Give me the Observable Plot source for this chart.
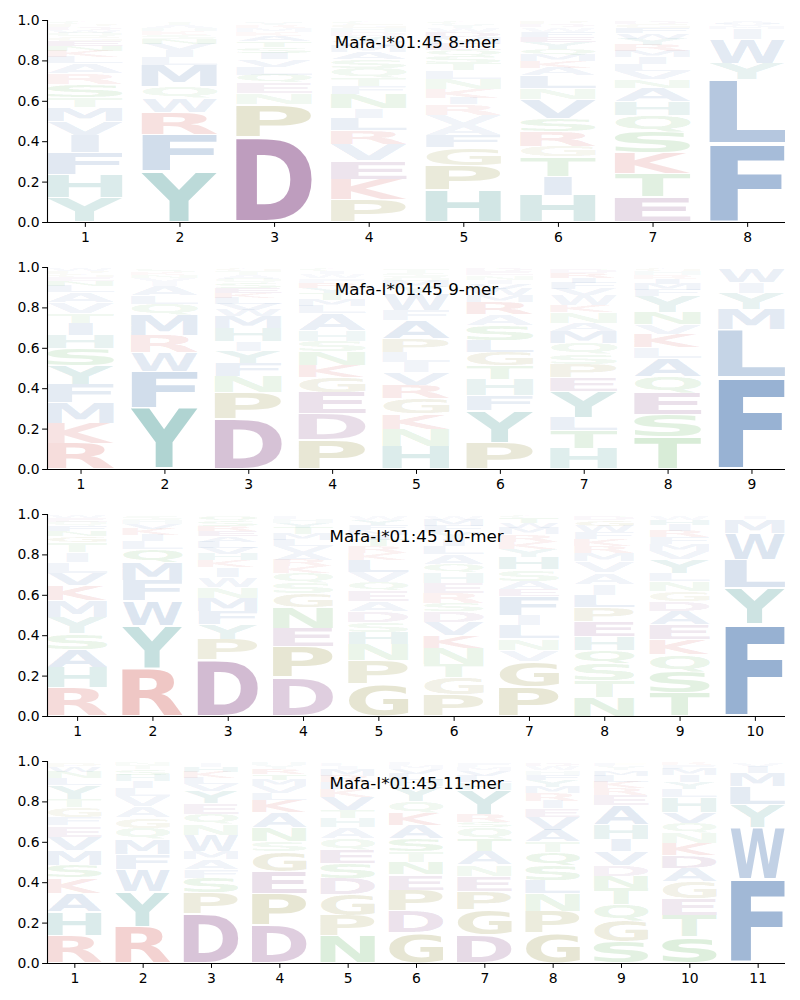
<!DOCTYPE html>
<html><head><meta charset="utf-8">
<script src="https://cdn.jsdelivr.net/npm/d3@7"></script>
<script src="https://cdn.jsdelivr.net/npm/@observablehq/plot@0.6"></script>
<style>
body{margin:0;background:#fff;}
#chart{width:800px;}
#chart svg{display:block;}
</style></head><body><div id="chart"></div>
<script>
// Panel titles
const titles = ["Mafa-I*01:45 8-mer", "Mafa-I*01:45 9-mer", "Mafa-I*01:45 10-mer", "Mafa-I*01:45 11-mer"];
const yTicks = [0, 0.2, 0.4, 0.6, 0.8, 1.0];

// Each position: letters stacked bottom -> top with their frequency
const mer8 = [
  [["Y",.12],["H",.115],["F",.11],["I",.085],["V",.07],["M",.07],["T",.05],["S",.065],["R",.055],["A",.05],["L",.03],["K",.03],["N",.025],["E",.025],["G",.02],["Q",.02],["W",.015],["D",.015],["P",.015],["C",.01]],
  [["Y",.25],["F",.18],["R",.11],["W",.07],["Q",.055],["M",.105],["L",.04],["I",.035],["V",.03],["N",.025],["S",.02],["K",.02],["H",.015],["A",.015],["T",.015]],
  [["D",.42],["P",.16],["N",.055],["E",.05],["Q",.04],["L",.04],["V",.035],["I",.03],["S",.03],["T",.03],["A",.025],["K",.02],["M",.02],["R",.015],["Y",.015]],
  [["P",.11],["K",.1],["E",.09],["V",.083],["R",.066],["L",.06],["I",.047],["N",.07],["F",.04],["T",.04],["Q",.05],["S",.04],["A",.035],["M",.03],["W",.025],["Y",.025],["D",.02],["H",.02],["G",.02],["C",.01]],
  [["H",.155],["P",.12],["G",.085],["F",.06],["A",.05],["V",.05],["R",.05],["I",.03],["K",.045],["N",.05],["L",.04],["T",.035],["S",.035],["Q",.03],["E",.03],["M",.03],["D",.025],["W",.02],["Y",.02],["C",.01]],
  [["H",.125],["I",.09],["T",.09],["G",.05],["R",.07],["S",.06],["V",.09],["N",.05],["L",.06],["A",.035],["K",.03],["M",.03],["Q",.03],["Y",.03],["E",.025],["F",.025],["W",.02],["D",.015],["P",.01]],
  [["E",.12],["T",.11],["K",.1],["S",.1],["Q",.08],["H",.065],["A",.065],["N",.04],["V",.04],["L",.035],["I",.03],["M",.03],["R",.03],["Y",.03],["W",.025],["F",.025],["G",.02],["D",.01]],
  [["F",.385],["L",.315],["Y",.08],["W",.12],["I",.05],["M",.015],["V",.01],["A",.01]]
];
const mer9 = [
  [["R",.125],["K",.1],["M",.1],["F",.09],["Y",.09],["S",.085],["H",.065],["I",.06],["T",.05],["V",.05],["A",.05],["L",.03],["N",.025],["E",.02],["G",.015],["P",.015],["W",.01]],
  [["Y",.3],["F",.18],["W",.09],["R",.085],["M",.1],["Q",.055],["L",.04],["A",.045],["I",.02],["V",.02],["N",.015],["K",.015],["S",.015]],
  [["D",.25],["P",.13],["N",.08],["F",.065],["Y",.06],["I",.05],["H",.065],["M",.06],["W",.03],["V",.03],["L",.03],["K",.025],["E",.025],["S",.025],["Q",.02],["A",.02],["T",.02],["G",.01]],
  [["P",.14],["D",.12],["E",.1],["G",.075],["K",.055],["N",.065],["S",.05],["H",.05],["A",.08],["L",.035],["M",.03],["T",.03],["Y",.025],["R",.025],["F",.02],["W",.02],["I",.015],["C",.01]],
  [["H",.11],["N",.085],["K",.075],["G",.075],["R",.065],["V",.06],["I",.05],["L",.05],["P",.065],["A",.09],["F",.05],["W",.08],["Y",.03],["M",.03],["Q",.02],["S",.02],["T",.02]],
  [["P",.125],["Y",.15],["F",.07],["H",.075],["T",.065],["G",.065],["L",.055],["S",.07],["A",.05],["R",.06],["M",.03],["W",.03],["V",.025],["I",.02],["N",.02],["E",.02],["D",.01]],
  [["H",.1],["T",.09],["L",.065],["Y",.13],["E",.065],["P",.065],["S",.05],["Q",.055],["M",.06],["A",.04],["N",.05],["K",.035],["W",.05],["V",.03],["F",.03],["I",.025],["R",.025],["D",.02]],
  [["T",.16],["S",.11],["E",.11],["Q",.08],["A",.09],["L",.055],["K",.065],["V",.05],["N",.06],["Y",.08],["F",.03],["M",.03],["I",.025],["R",.02],["H",.02],["G",.01]],
  [["F",.455],["L",.24],["M",.1],["Y",.08],["I",.055],["W",.065]]
];
const mer10 = [
  [["R",.14],["H",.1],["A",.09],["S",.08],["Y",.08],["M",.08],["K",.075],["V",.06],["L",.055],["I",.05],["T",.05],["G",.03],["N",.025],["F",.025],["Q",.02],["E",.02],["W",.01]],
  [["R",.24],["Y",.21],["W",.125],["F",.1],["M",.09],["Q",.065],["L",.04],["I",.03],["K",.03],["V",.025],["H",.02],["S",.02]],
  [["D",.28],["P",.1],["Y",.075],["F",.065],["M",.065],["N",.055],["W",.05],["I",.05],["K",.035],["H",.03],["V",.03],["L",.03],["A",.03],["E",.025],["R",.025],["S",.025],["Q",.025]],
  [["D",.19],["P",.15],["E",.09],["N",.1],["G",.07],["S",.055],["Q",.045],["K",.035],["R",.03],["A",.035],["V",.03],["L",.03],["M",.03],["T",.03],["Y",.025],["H",.02],["F",.015]],
  [["G",.155],["P",.115],["N",.08],["H",.06],["S",.05],["D",.055],["A",.045],["E",.055],["Q",.04],["V",.05],["L",.06],["K",.035],["R",.03],["T",.03],["I",.025],["M",.025],["F",.025],["Y",.025],["W",.02]],
  [["P",.105],["G",.085],["T",.065],["N",.08],["K",.06],["V",.065],["D",.055],["S",.04],["R",.05],["E",.05],["H",.05],["Q",.04],["A",.05],["L",.04],["I",.035],["Y",.035],["F",.03],["M",.03],["W",.02]],
  [["P",.14],["G",.125],["V",.055],["N",.055],["L",.065],["I",.05],["F",.09],["E",.035],["A",.04],["S",.055],["H",.06],["Y",.04],["K",.035],["R",.035],["M",.03],["W",.025],["T",.025],["C",.01]],
  [["N",.09],["T",.08],["S",.085],["Q",.065],["H",.065],["E",.075],["P",.065],["L",.06],["I",.055],["A",.055],["V",.055],["M",.04],["R",.035],["K",.035],["F",.03],["W",.03],["G",.03],["D",.02]],
  [["T",.115],["S",.105],["Q",.085],["K",.075],["E",.075],["A",.065],["D",.05],["G",.05],["N",.05],["L",.04],["Y",.07],["V",.04],["M",.035],["F",.035],["R",.03],["I",.03],["H",.025],["W",.02]],
  [["F",.46],["Y",.18],["L",.14],["W",.13],["M",.07],["I",.015]]
];
const mer11 = [
  [["R",.135],["H",.115],["A",.09],["K",.075],["S",.06],["M",.075],["V",.065],["E",.055],["F",.04],["G",.05],["T",.04],["Y",.065],["L",.035],["N",.03],["W",.025],["P",.02]],
  [["R",.18],["Y",.17],["W",.11],["F",.075],["M",.075],["Q",.055],["G",.05],["A",.055],["V",.05],["L",.04],["I",.035],["H",.03],["S",.03],["T",.02],["N",.01]],
  [["D",.24],["P",.105],["S",.075],["F",.04],["A",.05],["M",.04],["W",.08],["N",.055],["Q",.05],["E",.05],["Y",.06],["V",.035],["L",.03],["K",.03],["H",.025],["I",.02]],
  [["D",.19],["P",.155],["E",.11],["G",.1],["S",.05],["N",.07],["A",.075],["K",.06],["L",.035],["V",.035],["M",.03],["T",.03],["R",.025],["Y",.02],["H",.01]],
  [["N",.135],["P",.1],["G",.105],["D",.08],["S",.075],["E",.065],["Q",.055],["A",.055],["H",.045],["T",.04],["V",.065],["K",.04],["L",.035],["R",.03],["M",.03],["I",.02],["F",.015]],
  [["G",.15],["D",.105],["P",.105],["E",.075],["N",.06],["T",.055],["S",.065],["A",.065],["K",.06],["Q",.055],["Y",.075],["H",.03],["L",.03],["V",.025],["M",.02],["F",.01]],
  [["D",.135],["G",.125],["P",.09],["E",.075],["N",.055],["A",.065],["T",.06],["Q",.055],["S",.025],["R",.04],["Y",.12],["H",.035],["L",.03],["V",.025],["M",.02],["F",.02]],
  [["G",.14],["P",.1],["N",.08],["L",.06],["S",.07],["Q",.06],["T",.05],["A",.055],["V",.06],["E",.04],["I",.035],["R",.035],["M",.03],["Y",.03],["F",.025],["H",.02],["W",.02],["D",.015]],
  [["S",.1],["G",.1],["Q",.075],["T",.075],["N",.06],["D",.05],["V",.065],["I",.055],["H",.07],["A",.09],["E",.05],["R",.03],["K",.03],["L",.03],["M",.025],["Y",.02],["F",.015]],
  [["S",.125],["T",.105],["E",.08],["G",.08],["A",.065],["D",.06],["K",.06],["N",.05],["Q",.045],["V",.055],["H",.07],["L",.04],["Y",.035],["I",.03],["M",.03],["F",.02],["R",.01]],
  [["F",.415],["W",.255],["Y",.115],["L",.09],["M",.065],["I",.03],["V",.02]]
];

// Colour groups
const groupColors = {
  hydrophobic: "rgb(35,90,160)",
  aromaticPolar: "rgb(10,120,115)",
  acidic: "rgb(105,30,105)",
  basic: "rgb(195,40,35)",
  special: "rgb(120,115,10)",
  polar: "rgb(45,150,40)"
};
const groupMembers = {
  hydrophobic: "AVLIMFW",
  aromaticPolar: "YH",
  acidic: "DE",
  basic: "RK",
  special: "PG",
  polar: "STNQC"
};
function colorOf(aa) {
  for (const g in groupMembers) if (groupMembers[g].includes(aa)) return groupColors[g];
  return "#888";
}

const panels = [mer8, mer9, mer10, mer11];

// glyph ink metrics via canvas
const FONT_PX = 100;
const FONT = `bold ${FONT_PX}px "DejaVu Sans"`;
const ctx = document.createElement("canvas").getContext("2d");
ctx.font = FONT;
ctx.textAlign = "left";
ctx.textBaseline = "alphabetic";
const inkCache = {};
function ink(ch) {
  if (inkCache[ch]) return inkCache[ch];
  const m = ctx.measureText(ch);
  const r = {left: -m.actualBoundingBoxLeft, right: m.actualBoundingBoxRight,
             top: -m.actualBoundingBoxAscent, bottom: m.actualBoundingBoxDescent};
  r.w = r.right - r.left; r.h = r.bottom - r.top;
  return inkCache[ch] = r;
}
const VPAD = 0.05;
const container = document.getElementById("chart");

panels.forEach((cols, pi) => {
  const n = cols.length;
  const rows = [];
  cols.forEach((col, i) => {
    const total = d3.sum(col, d => d[1]);
    const k = 0.99 / total;
    let y = 0;
    col.forEach(([aa, v]) => {
      const h = v * k;
      rows.push({pos: i + 1, aa, y1: y, y2: y + h, h});
      y += h;
    });
  });
  const xDomain = [0.6, n + 0.4];
  const svg = Plot.plot({
    width: 800, height: 247,
    marginTop: 20, marginBottom: 25, marginLeft: 47, marginRight: 15,
    style: {fontFamily: "DejaVu Sans", fontSize: "13.9px", color: "black", background: "white", overflow: "visible"},
    x: {domain: xDomain, ticks: d3.range(1, n + 1), tickFormat: "d", tickSize: 4.9, tickPadding: 5, label: null},
    y: {domain: [0, 1], ticks: yTicks, tickFormat: ".1f", tickSize: 4.9, tickPadding: 3, label: null},
    marks: [
      Plot.rect(rows, {x1: d => d.pos - 0.4, x2: d => d.pos + 0.4, y1: "y1", y2: "y2", fill: "#000", fillOpacity: 0}),
      Plot.ruleY([0], {strokeWidth: 1.1}),
      Plot.ruleX([xDomain[0]], {strokeWidth: 1.1}),
      Plot.text([titles[pi]], {text: d => d, frameAnchor: "top", dy: 16, fontSize: 16.7, fill: "black"})
    ]
  });
  container.appendChild(svg);
  const rects = Array.from(svg.querySelectorAll("rect"));
  if (!rects.length) return;
  const g = rects[0].parentNode;
  const eInk = ink("E");
  rects.forEach((r, i) => {
    const d = rows[i];
    const x = +r.getAttribute("x"), y = +r.getAttribute("y");
    const w = +r.getAttribute("width"), h = +r.getAttribute("height");
    const m = ink(d.aa);
    const pad = h * VPAD / 2;
    const sy = (h - 2 * pad) / m.h;
    const sx = Math.min(w / m.w, w / eInk.w);
    const ox = x + (w - m.w * sx) / 2;
    const t = document.createElementNS("http://www.w3.org/2000/svg", "text");
    t.textContent = d.aa;
    t.setAttribute("font-family", "DejaVu Sans");
    t.setAttribute("font-weight", "bold");
    t.setAttribute("font-size", FONT_PX);
    t.setAttribute("text-anchor", "start");
    t.setAttribute("dominant-baseline", "alphabetic");
    t.setAttribute("fill", colorOf(d.aa));
    t.setAttribute("fill-opacity", Math.min(0.6, 0.035 + 0.95 * d.h).toFixed(3));
    t.setAttribute("stroke", "none");
    t.setAttribute("transform", `translate(${ox},${y + pad}) scale(${sx},${sy}) translate(${-m.left},${-m.top})`);
    g.appendChild(t);
    r.remove();
  });
});
</script></body></html>
